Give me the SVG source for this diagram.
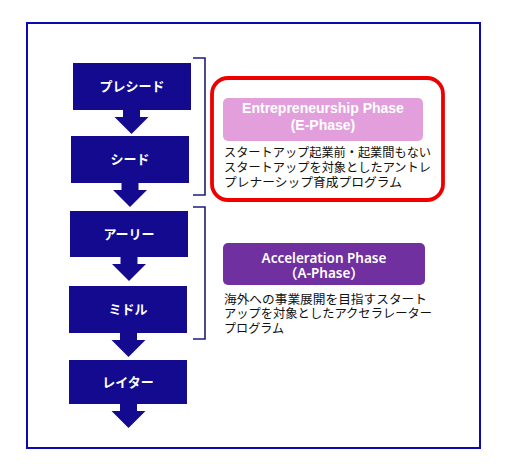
<svg xmlns="http://www.w3.org/2000/svg" width="510" height="475" viewBox="0 0 510 475">
<style>
.stage{fill:#130a8f}
.stxt{font-family:"Noto Sans CJK JP","Noto Sans",sans-serif;font-size:13px;font-weight:bold;fill:#fff;text-anchor:middle}
.arr{fill:#130a8f}
.brk{fill:none;stroke:#1c1c7c;stroke-width:1.6}
.body{font-family:"Noto Sans CJK JP","Noto Sans",sans-serif;font-size:12.5px;fill:#111}
.hE{font-family:"Liberation Sans",Arial,sans-serif;font-size:14px;font-weight:bold;fill:#fff;text-anchor:middle}
.hA{font-family:"Noto Sans","Noto Sans CJK JP",sans-serif;font-size:13.5px;font-weight:600;fill:#fff;text-anchor:middle}
</style>
<rect width="510" height="475" fill="#fff"/>
<rect x="27" y="23" width="453" height="425" fill="none" stroke="#0a0ab4" stroke-width="2"/>
<g id="connectors">
<path class="arr" d="M123,110h17v7h8.5l-17,17l-17,-17h8.5z"/>
<path class="arr" d="M121.5,183h17v7h8.5l-17,17l-17,-17h8.5z"/>
<path class="arr" d="M120.5,257h17v7h8.5l-17,17l-17,-17h8.5z"/>
<path class="arr" d="M120,333h17v7h8.5l-17,17l-17,-17h8.5z"/>
<path class="arr" d="M120,404h17v7h8.5l-17,17l-17,-17h8.5z"/>
<path class="brk" d="M193,58H205V195H193"/>
<path class="brk" d="M193,207H205V339H193"/>
</g>
<g id="pre-seed"><rect class="stage" x="73" y="63" width="118" height="47"/><text class="stxt" x="132" y="91">プレシード</text></g>
<g id="seed"><rect class="stage" x="71" y="136" width="118" height="47"/><text class="stxt" x="130" y="164">シード</text></g>
<g id="early"><rect class="stage" x="70" y="211" width="118" height="46"/><text class="stxt" x="129" y="239">アーリー</text></g>
<g id="middle"><rect class="stage" x="69" y="286" width="118" height="47"/><text class="stxt" x="128" y="314">ミドル</text></g>
<g id="later"><rect class="stage" x="69" y="360" width="118" height="44"/><text class="stxt" x="128" y="387">レイター</text></g>
<g id="e-phase">
<rect x="212" y="78" width="231" height="122" rx="16" fill="none" stroke="#ee0000" stroke-width="3.8"/>
<rect x="223" y="98" width="200" height="43" rx="5" fill="#e29fdc"/>
<text class="hE"><tspan x="323" y="113">Entrepreneurship Phase</tspan><tspan x="323" y="130">(E-Phase)</tspan></text>
<text class="body"><tspan x="224" y="156.5" textLength="207" lengthAdjust="spacingAndGlyphs">スタートアップ起業前・起業間もない</tspan><tspan x="224" y="171.5" textLength="207" lengthAdjust="spacingAndGlyphs">スタートアップを対象としたアントレ</tspan><tspan x="224" y="186.5" textLength="178" lengthAdjust="spacingAndGlyphs">プレナーシップ育成プログラム</tspan></text>
</g>
<g id="a-phase">
<rect x="223" y="243" width="202" height="42" rx="5" fill="#7030a0"/>
<text class="hA"><tspan x="324" y="263">Acceleration Phase</tspan><tspan x="324" y="278">（A-Phase）</tspan></text>
<text class="body"><tspan x="224" y="303.5" textLength="203" lengthAdjust="spacingAndGlyphs">海外への事業展開を目指すスタート</tspan><tspan x="224" y="318" textLength="208" lengthAdjust="spacingAndGlyphs">アップを対象としたアクセラレーター</tspan><tspan x="224" y="332.5" textLength="60" lengthAdjust="spacingAndGlyphs">プログラム</tspan></text>
</g>
</svg>
